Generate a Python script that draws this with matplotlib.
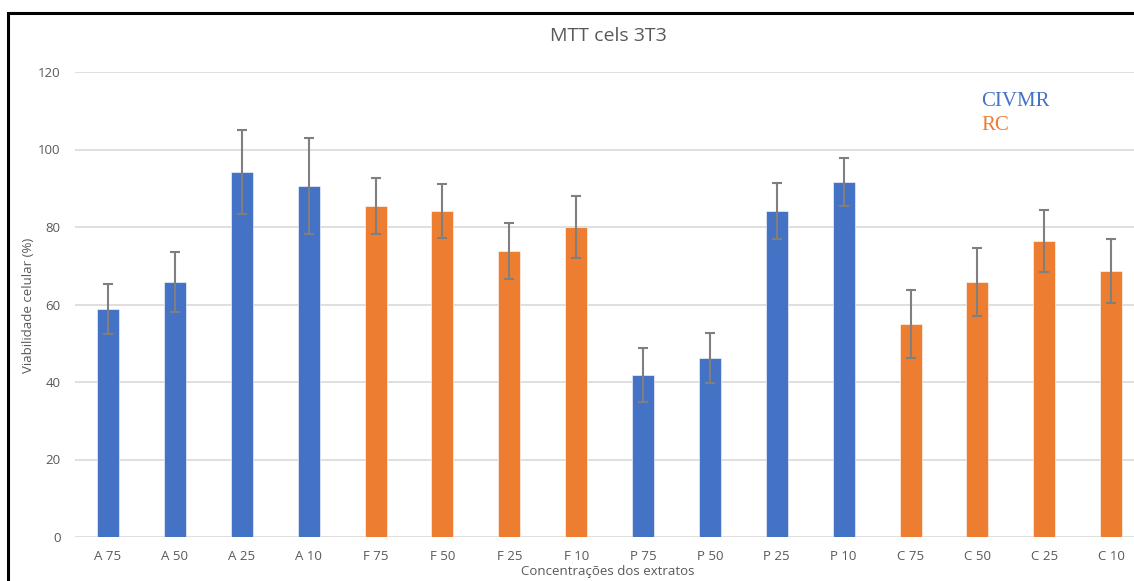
import matplotlib.pyplot as plt
from matplotlib.patches import Rectangle

# Data
categories = ["A 75", "A 50", "A 25", "A 10", "F 75", "F 50", "F 25", "F 10",
              "P 75", "P 50", "P 25", "P 10", "C 75", "C 50", "C 25", "C 10"]
viability = [58.8, 65.8, 94.2, 90.6, 85.4, 84.1, 73.8, 80.0,
             41.8, 46.2, 84.1, 91.6, 55.0, 65.8, 76.4, 68.6]
errors = [6.4, 7.8, 10.8, 12.4, 7.2, 7.0, 7.3, 8.1,
          7.0, 6.4, 7.2, 6.2, 8.7, 8.7, 8.0, 8.3]
groups = ["CIVMR"] * 4 + ["RC"] * 4 + ["CIVMR"] * 4 + ["RC"] * 4

groupColors = {"CIVMR": "#4472C4", "RC": "#ED7D31"}
barColors = [groupColors[g] for g in groups]

fig = plt.figure(figsize=(11.34, 5.81), dpi=100)
W, H = 1134, 581

# black frame around the chart (cut off at right/bottom)
fig.patches.append(Rectangle((8 / W, -0.1), 1.2, 1 - 13 / H + 0.1,
                             transform=fig.transFigure, fill=False,
                             edgecolor="black", linewidth=2.2))

left = 74.6 / W
right = 1144.6 / W
bottom = (H - 537) / H
top = (H - 72) / H
ax = fig.add_axes([left, bottom, right - left, top - bottom])

x = list(range(len(categories)))
ax.bar(x, viability, width=0.33, color=barColors, edgecolor="white",
       linewidth=0.4, zorder=3)
ax.errorbar(x, viability, yerr=errors, fmt="none", ecolor="#7F7F7F",
            elinewidth=1.5, capsize=3.5, capthick=1.5, zorder=4)

ax.set_xlim(-0.5, len(categories) - 0.5)
ax.set_ylim(0, 120)
ax.set_yticks(range(0, 121, 20))
ax.set_xticks(x)
ax.set_xticklabels(categories)
ax.grid(axis="y", color="#D9D9D9", linewidth=1.2, zorder=0)
ax.set_axisbelow(True)
for s in ax.spines.values():
    s.set_visible(False)
ax.tick_params(length=0, labelsize=9.5, labelcolor="#595959", pad=10)
ax.tick_params(axis="x", pad=9)
for lab in ax.get_xticklabels() + ax.get_yticklabels():
    lab.set_family("Open Sans")

fig.text(608 / W, 1 - 36 / H, "MTT cels 3T3", ha="center", va="center",
         fontsize=14, color="#595959", family="Open Sans")
fig.text(28 / W, 1 - 305 / H, "Viabilidade celular (%)", ha="center",
         va="center", rotation=90, fontsize=9.5, color="#595959",
         family="Open Sans")
fig.text(608 / W, 1 - 572 / H, "Concentrações dos extratos", ha="center",
         va="center", fontsize=9.5, color="#595959", family="Open Sans")

# group labels used as a legend
fig.text(981 / W, 1 - 102 / H, "CIVMR", ha="left", va="center",
         fontsize=15, color=groupColors["CIVMR"], family="Liberation Serif")
fig.text(981 / W, 1 - 126 / H, "RC", ha="left", va="center",
         fontsize=15, color=groupColors["RC"], family="Liberation Serif")

fig.savefig("out.png", dpi=100)
